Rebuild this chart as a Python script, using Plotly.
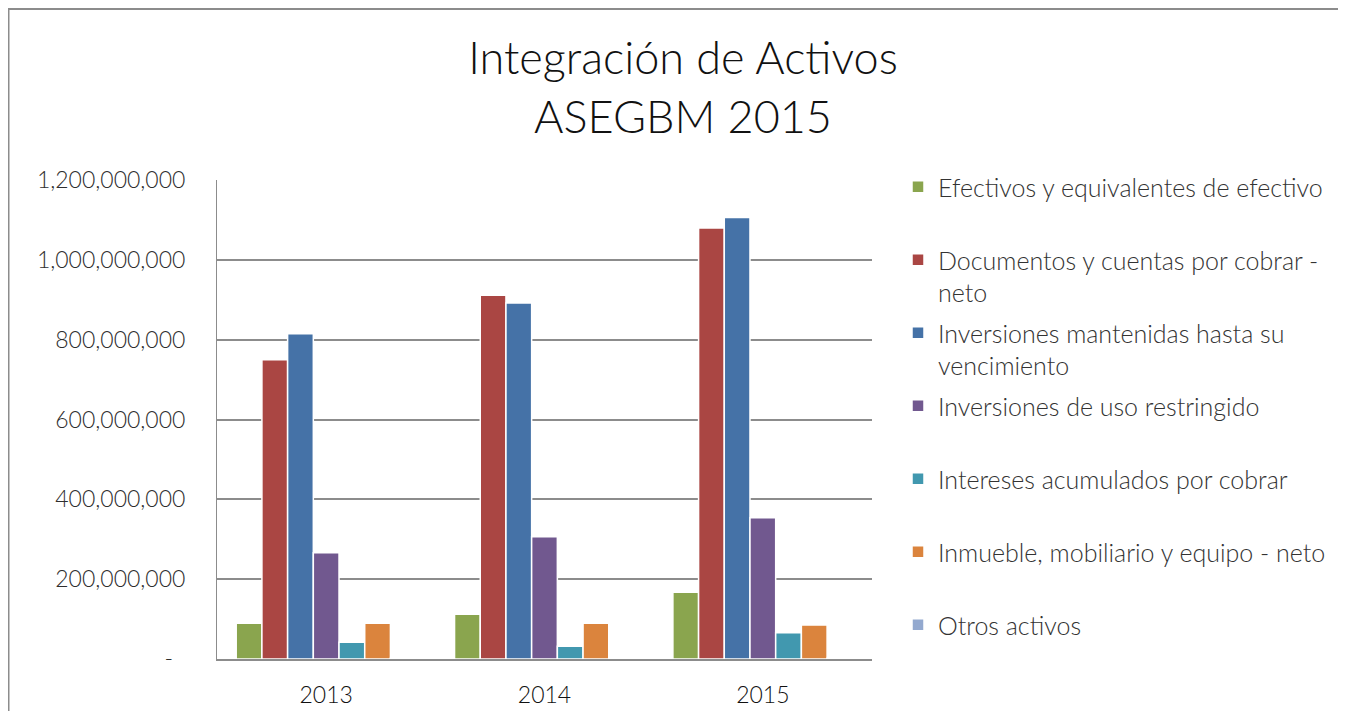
import plotly.graph_objects as go

# ---- data ----
years = ["2013", "2014", "2015"]
series_names = [
    "Efectivos y equivalentes de efectivo",
    "Documentos y cuentas por cobrar - neto",
    "Inversiones mantenidas hasta su vencimiento",
    "Inversiones de uso restringido",
    "Intereses acumulados por cobrar",
    "Inmueble, mobiliario y equipo - neto",
    "Otros activos",
]
legend_labels = [
    "Efectivos y equivalentes de efectivo",
    "Documentos y cuentas por cobrar -<br>neto",
    "Inversiones mantenidas hasta su<br>vencimiento",
    "Inversiones de uso restringido",
    "Intereses acumulados por cobrar",
    "Inmueble, mobiliario y equipo - neto",
    "Otros activos",
]
efectivos = [89.5e6, 112e6, 167e6]
documentos = [750e6, 911e6, 1080e6]
inversiones_mant = [815e6, 892e6, 1106e6]
inversiones_restr = [266e6, 306e6, 354e6]
intereses = [42e6, 32e6, 66e6]
inmueble = [89.5e6, 89.5e6, 85e6]
otros = [2e6, 2e6, 2e6]
values = [efectivos, documentos, inversiones_mant, inversiones_restr,
          intereses, inmueble, otros]
colors = ["#8AA54E", "#AA4643", "#4572A7", "#71588F", "#4198AF", "#DB843D", "#93A9CF"]

tick_vals = [0, 200e6, 400e6, 600e6, 800e6, 1000e6, 1200e6]
tick_text = ["-\u00a0\u00a0", "200,000,000", "400,000,000", "600,000,000",
             "800,000,000", "1,000,000,000", "1,200,000,000"]

FONT = "Lato"
TXT = "#333333"

fig = go.Figure()
for i, (name, lab, vals, col) in enumerate(zip(series_names, legend_labels, values, colors)):
    if "<br>" not in lab:
        lab = lab + "<br>\u00a0"
    fig.add_trace(go.Bar(
        x=years, y=vals, name=lab, legendgroup=f"g{i}",
        marker=dict(color=col, line=dict(color="white", width=1.5)),
    ))

W, H = 1330, 703
L, R, T, B = 209, 466, 172, 52
pw, ph = W - L - R, H - T - B

def px2paper_x(px):
    return (px - L) / pw

def px2paper_y(py):
    return (H - B - py) / ph

fig.update_layout(
    width=W, height=H,
    margin=dict(l=L, r=R, t=T, b=B, pad=0, autoexpand=False),
    paper_bgcolor="white", plot_bgcolor="white",
    barmode="group", bargap=0.176, bargroupgap=0,
    font=dict(family=FONT, color=TXT, size=24, weight=300),
    title=dict(
        text="Integración de Activos<br>ASEGBM 2015",
        x=675 / W, xanchor="center", xref="container",
        y=1 - 66 / H, yanchor="middle", yref="container",
        font=dict(family=FONT, size=45, color="#111111", weight=300),
    ),
    xaxis=dict(
        type="category", showgrid=False, showline=True, linecolor="#8c8c8c", linewidth=2,
        ticks="", tickfont=dict(size=23, color="#111111"), ticklabelstandoff=14,
        automargin=False,
    ),
    yaxis=dict(
        range=[0, 1.2e9], tickvals=tick_vals, ticktext=tick_text,
        showgrid=True, gridcolor="#8c8c8c", gridwidth=2,
        showline=True, linecolor="#8c8c8c", linewidth=1,
        zeroline=False, ticks="", ticklabelstandoff=26,
        tickfont=dict(size=23, color="#2e2e2e"), automargin=False,
    ),
    legend=dict(
        x=px2paper_x(890), xanchor="left",
        y=px2paper_y(156), yanchor="top",
        valign="top", tracegroupgap=5, maxheight=660,
        font=dict(size=25, color=TXT, family=FONT, weight=300),
        bgcolor="rgba(0,0,0,0)",
    ),
    showlegend=True,
)

# outer chart border (left and top edges visible in the reference)
fig.add_shape(type="line", xref="paper", yref="paper",
              x0=px2paper_x(0.5), x1=px2paper_x(0.5),
              y0=px2paper_y(H + 10), y1=px2paper_y(1),
              line=dict(color="#8c8c8c", width=2))
fig.add_shape(type="line", xref="paper", yref="paper",
              x0=px2paper_x(0), x1=px2paper_x(W + 10),
              y0=px2paper_y(1), y1=px2paper_y(1),
              line=dict(color="#8c8c8c", width=2))

fig.write_html("out.html")
